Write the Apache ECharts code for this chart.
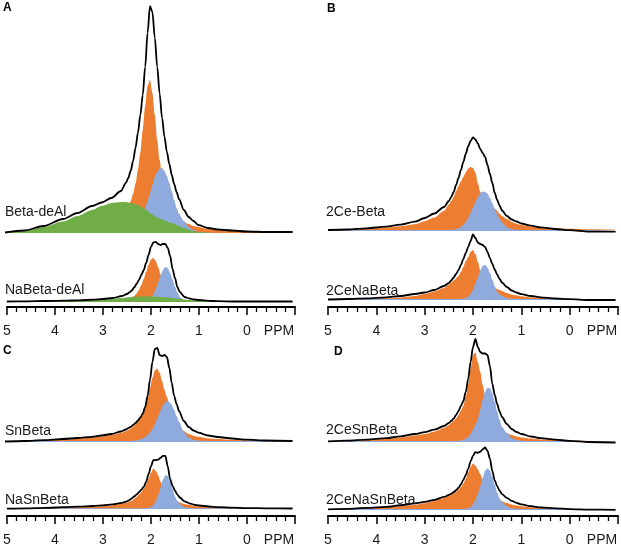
<!DOCTYPE html>
<html><head><meta charset="utf-8">
<script src="https://cdn.jsdelivr.net/npm/echarts@6/dist/echarts.min.js"></script>
<style>html,body{margin:0;padding:0;background:#fff}#c{width:621px;height:547px}</style>
</head><body><div id="c"></div>
<script>
// chemical shift grid (ppm) shared by all spectra
const ppm = [5.0, 4.6, 4.2, 3.8, 3.5, 3.2, 3.0, 2.8, 2.6, 2.5, 2.45, 2.4, 2.35, 2.3, 2.25, 2.2, 2.15, 2.1, 2.05, 2.0,
             1.95, 1.9, 1.85, 1.8, 1.75, 1.7, 1.65, 1.6, 1.55, 1.5, 1.45, 1.4, 1.3, 1.2, 1.1, 1.0, 0.8, 0.6, 0.3, 0.0, -0.4, -0.95];
const tickValues = [5, 4, 3, 2, 1, 0, -1];
const tickLabels = ['5', '4', '3', '2', '1', '0', 'PPM'];
const spectrumNames = ['Beta-deAl', 'NaBeta-deAl', '2Ce-Beta', '2CeNaBeta', 'SnBeta', 'NaSnBeta', '2CeSnBeta', '2CeNaSnBeta'];
const panelLetters = ['A', 'B', 'C', 'D'];

// A: Beta-deAl
const aTotal  = [0.5,2.5,7,14,20,27,30.5,35,42,50, 55,62,72,85,100,118,138,166,200,227, 221,195,166,139,115,96,81,69,58,49, 41,34,23,16,12,8,5,3.5,2.5,1.5, 1,1];
const aOrange = [0.7,0.9,1.3,1.9,2.7,4.2,6,9,16,22, 26,32,39,49,63,80,103,127,147,153, 140,118,93,73,57,45,36,29,24,20, 17,15,11,9,7,6,4,3,2,1.5, 1,0.7];
const aBlue   = [0,0,0,0,0,0,0,0,0,0.5, 1,2,3,5,8,12,17,24,32,40, 48,56,61,64.5,65,62,57,50,42,33, 25,19,12,6,3,1,0.3,0,0,0, 0,0];
const aGreen  = [0.5,1.8,6,11.5,17,23,27,30,31,31, 30.5,30,29.5,29,28,27,25.5,24,22,20, 18.5,17,15.5,14.5,13.5,12.5,11.5,10.5,10,9, 8,7,5,3.5,2,1,0.3,0,0,0, 0,0];
// A: NaBeta-deAl
const naTotal  = [0.5,0.7,1,1.3,1.7,2.3,3,4,6,8, 9.5,11.5,14.5,18,22,27,32,39,47,55, 59.5,60,58,57,58,58,54,46,33,24, 15,10,5,3.5,2.5,2,1.2,0.8,0.5,0.5, 0.5,0.5];
const naOrange = [0.1,0.2,0.2,0.3,0.4,0.6,0.8,1.1,2,2.8, 3.5,4.5,6,8.6,12,17,23,30,37,42.5, 44,41,35,27.5,21,15,10.5,7.5,5.4,4, 3.2,2.6,1.9,1.4,1.1,0.9,0.6,0.5,0.3,0.2, 0.1,0.1];
const naBlue   = [0,0,0,0,0,0,0,0,0,0, 0,0,0,0,0,0.1,0.3,0.8,2,4, 7.5,13,19.5,26.5,32,35,34,29,22.5,15.5, 9.5,5.2,1.1,0.2,0,0,0,0,0,0, 0,0];
const naGreen  = [1,1,1,1.2,1.5,2,2.5,3.3,4,4.5, 4.7,4.9,5.1,5.3,5.4,5.5,5.6,5.6,5.6,5.5, 5.4,5.3,5.2,5,4.8,4.6,4.4,4.2,4,3.7, 3.4,3.1,2.6,2.1,1.7,1.4,1.1,1,1,1, 1,1];
// B: 2Ce-Beta
const ceTotal  = [1,1.5,2.7,4.3,6.3,9.3,13,17.5,24,30, 34,39,46,53,61,69,77,84.5,90,93.7, 91.5,87.5,82,78,74,66,57,48,38,31, 25.5,20.5,15,11.5,9.5,7.5,5.3,3.6,2,0.8, -0.7,-0.7];
const ceOrange = [1.5,2,2.5,3.5,4.8,6.8,9.8,13.5,20,26.5, 30,34,40,45,49.5,54,58.5,62.5,64,63, 58.5,48,39,34,31,28.5,26.5,24.5,22.5,20, 17,15,12,9.3,7.3,6,4.6,3.6,2.8,2.2, 1.7,1.3];
const ceBlue   = [1,1,1,1,1,1,1,1,1,1, 1,1.5,1.9,2.7,4.1,6.1,9.1,13,17.9,23.5, 29,34,38,39.5,39,37.5,33,28,22.3,17, 12.2,8.4,3.7,1.8,1.2,1,1,1,1,1, 1,1];
// B: 2CeNaBeta
const ceNaTotal  = [0.5,1,1.6,2.6,4,6,7.5,10,14,17, 19.5,22.5,26,30,35,41,47,53,59,65.5, 62,57.5,56,55,53,48,42,36,30.5,25.5, 21,17.5,13,9.5,7.5,5.8,4,2.7,1.5,0.8, 0,0];
const ceNaOrange = [0.5,0.8,1.2,1.8,2.6,4,6,8.5,12,15.5, 17.5,19.5,21.5,24,28,33,38.7,43,48,50, 46,38,30,25,21,18,16,14,12.5,11, 10,9,7,5.5,4.5,3.7,2.6,2,1.4,1, 0.7,0.5];
const ceNaBlue   = [1,1,1,1,1,1,1,1,1,1, 1,1,1,1,1,1.4,2.1,3.5,6.1,10.3, 16.2,23,29.6,34.1,35.2,32.6,27.1,20.2,13.6,8.4, 5.5,4,2,1.2,1,1,1,1,1,1, 1,1];
// C: SnBeta
const snTotal  = [0.5,1,1.8,3,4,5.2,6.5,8,10.5,12.5, 13.8,15,17,19,21.5,24.5,28.5,35,46,62, 80,93,94,87,86,87,85,74,59,46, 38,31,21,15,11.5,9.3,6.5,5,3.5,2.3, 1.5,1];
const snOrange = [0.5,0.9,1.5,2.4,3.2,4.5,5.5,7,9,10.7, 12,13.3,15.3,17.8,20.5,23.5,27.5,33.5,43,54, 64,71.5,73.5,69,61,52,45,38,31,25, 20,16,11,8,6.3,5.2,3.8,3,2.2,1.7, 1.2,0.9];
const snBlue   = [1,1,1,1,1,1,1,1,1,1, 1,1,1.2,1.5,2,2.5,3.5,5,7,9.5, 13,17.5,23.4,29.6,35,39,41,40,37,32, 26,20,10,4.5,2,1.2,1,1,1,1, 1,1];
// C: NaSnBeta
const naSnTotal  = [0.5,0.8,1.3,2,2.5,3.2,3.8,4.8,6.5,8, 9.3,11,13,15,17.5,20,23,28,36,44, 50.5,50.5,51,53,55,55,44,31,24,19, 15,12,8,6,4.5,3.7,2.7,2,1.5,1, 0.8,0.6];
const naSnOrange = [0.4,0.6,0.9,1.3,1.8,2.4,3,3.9,5.5,6.8, 7.6,8.7,10.5,12.5,15,17.5,21,25.5,31,37.5, 42,39.5,35,28.5,23,18.5,15,12.5,10.5,9, 7.8,6.8,5.2,4.2,3.4,2.8,2,1.6,1.2,0.9, 0.7,0.5];
const naSnBlue   = [1,1,1,1,1,1,1,1,1,1, 1,1,1,1,1,1,1,1.1,1.4,2.2, 4.1,7.9,14.2,22.3,30.2,34.9,34.3,28.8,20.6,13, 8.5,5,2,1.2,1,1,1,1,1,1, 1,1];
// D: 2CeSnBeta
const ceSnTotal  = [0.7,1.3,2.3,3.8,5.7,8,9.8,12.3,16,19, 21,23.5,27,31,36,41,50,63,80,95, 103,95,90,88.5,88.5,87,76,58,47,38, 30.5,25,18,13,10,8,5.5,3.8,2.3,1.2, 0,-0.5];
const ceSnOrange = [0.7,1.2,2,3.2,4.6,6.5,8,10.3,14,17, 19,21,23.5,27,31.5,36,45,57,73.5,87, 89.5,80,70,57,46,37,30,24.5,20,16.5, 14,12,9,7,5.6,4.6,3.4,2.6,1.9,1.4, 1,0.8];
const ceSnBlue   = [1,1,1,1,1,1,1,1,1,1, 1,1,1,1.3,1.6,2.2,3.2,5,8,12, 17,23.3,32.7,42.3,50.1,54.3,53.8,48.8,40.5,30.8, 22,15,9,4,2,1.3,1,1,1,1, 1,1];
// D: 2CeNaSnBeta
const ceNaSnTotal  = [0.7,1.2,2.2,3.3,5,7,8.5,10.5,13.5,15.5, 16.8,18.5,20.5,23,26.5,31,36,42.5,50,56, 59.5,59,60,62.5,64.5,61,53,40,30.5,24.5, 20,16.5,12.5,9.5,7.5,5.8,4,2.8,1.8,1, 0.5,0.3];
const ceNaSnOrange = [0.6,1,1.8,2.8,4,5.5,7,9.5,12.5,14.5, 15.8,17.3,19,21,23.5,27,32,38.5,44.5,48, 46,42,37,31.5,26,21.5,18,15.5,13.5,11.8, 10.3,9,7.2,5.8,4.7,3.9,2.8,2.1,1.5,1.1, 0.8,0.6];
const ceNaSnBlue   = [1,1,1,1,1,1,1,1,1,1, 1,1,1,1,1,1.1,1.3,1.9,3.2,5.8, 10.4,17,24.5,33,40.5,43,40.6,34,26,18, 12,8.5,4,2,1.3,1,1,1,1,1, 1,1];

const spectra = [
  {total: aTotal, orange: aOrange, blue: aBlue, green: aGreen},
  {total: naTotal, orange: naOrange, blue: naBlue, green: naGreen},
  {total: ceTotal, orange: ceOrange, blue: ceBlue},
  {total: ceNaTotal, orange: ceNaOrange, blue: ceNaBlue},
  {total: snTotal, orange: snOrange, blue: snBlue},
  {total: naSnTotal, orange: naSnOrange, blue: naSnBlue},
  {total: ceSnTotal, orange: ceSnOrange, blue: ceSnBlue},
  {total: ceNaSnTotal, orange: ceNaSnOrange, blue: ceNaSnBlue}
];

// ----- layout (pixels) -----
const FONT = '"Liberation Sans", Arial, Helvetica, sans-serif';
const layout = [
  {left: 5,   top: 0,   height: 236, max: 233, axis: false},
  {left: 5,   top: 240, height: 65,  max: 62,  axis: true, offset: 2},
  {left: 328, top: 100, height: 134, max: 131, axis: false},
  {left: 328, top: 230, height: 73,  max: 70,  axis: true, offset: 4},
  {left: 5,   top: 342, height: 103, max: 100, axis: false},
  {left: 5,   top: 451, height: 63,  max: 60,  axis: true, offset: 4},
  {left: 328, top: 336, height: 109, max: 106, axis: false},
  {left: 328, top: 444, height: 71,  max: 68,  axis: true, offset: 3}
];
const nameLabelPos = [[5, 212], [5, 290], [326, 212], [326, 291.5], [5, 431], [5, 500.5], [326, 430], [326, 500]];
const letterPos = [[3, 2], [327, 3], [3, 345], [334, 346]];
const COLORS = {orange: '#ED7D31', blue: '#8FAADC', green: '#70AD47'};

const grids = [], xAxes = [], yAxes = [], series = [];
layout.forEach((L, i) => {
  grids.push({left: L.left, top: L.top, width: 290, height: L.height});
  xAxes.push({
    gridIndex: i, type: 'value', min: -1, max: 5, interval: 1, inverse: true,
    show: L.axis, offset: L.offset || 0, position: 'bottom',
    axisLine: {show: true, onZero: false, lineStyle: {color: '#000', width: 2}},
    axisTick: {show: true, length: 8, lineStyle: {color: '#000', width: 1.5}},
    minorTick: {show: true, splitNumber: 5, length: 5, lineStyle: {color: '#000', width: 1.3}},
    splitLine: {show: false}, minorSplitLine: {show: false},
    axisLabel: {
      show: true, margin: 17, showMinLabel: true, showMaxLabel: true,
      fontFamily: FONT, fontSize: 14, color: '#1a1a1a',
      formatter: v => {
        const k = tickValues.indexOf(Math.round(v));
        const t = k >= 0 ? tickLabels[k] : '';
        return t === 'PPM' ? '{p|' + t + '}' : t;
      },
      rich: {p: {fontFamily: FONT, fontSize: 14, color: '#1a1a1a', padding: [0, 32, 0, 0]}}
    }
  });
  yAxes.push({gridIndex: i, type: 'value', min: -3, max: L.max, show: false, splitLine: {show: false}});
  const S = spectra[i];
  ['orange', 'blue', 'green'].forEach(c => {
    if (!S[c]) return;
    series.push({
      type: 'line', xAxisIndex: i, yAxisIndex: i, silent: true,
      data: ppm.map((x, j) => [x, S[c][j]]),
      showSymbol: false, smooth: 0.3, smoothMonotone: 'x',
      lineStyle: {width: 0}, areaStyle: {color: COLORS[c], opacity: 1}, z: 2
    });
  });
  series.push({
    type: 'line', xAxisIndex: i, yAxisIndex: i, silent: true,
    data: ppm.map((x, j) => [x, S.total[j]]),
    showSymbol: false, smooth: 0.3, smoothMonotone: 'x',
    lineStyle: {color: '#000', width: 1.8}, z: 3
  });
});

const graphics = [];
spectrumNames.forEach((n, i) => {
  graphics.push({type: 'text', x: nameLabelPos[i][0], y: nameLabelPos[i][1], z: 10,
    style: {text: n, font: '14px ' + FONT, fill: '#1a1a1a', verticalAlign: 'middle', align: 'left'}});
});
panelLetters.forEach((t, i) => {
  graphics.push({type: 'text', x: letterPos[i][0], y: letterPos[i][1], z: 10,
    style: {text: t, font: 'bold 12px ' + FONT, fill: '#000', verticalAlign: 'top', align: 'left'}});
});

const chart = echarts.init(document.getElementById('c'), null, {renderer: 'canvas'});
chart.setOption({
  animation: false,
  backgroundColor: '#fff',
  grid: grids, xAxis: xAxes, yAxis: yAxes, series: series,
  graphic: graphics
});
</script></body></html>
